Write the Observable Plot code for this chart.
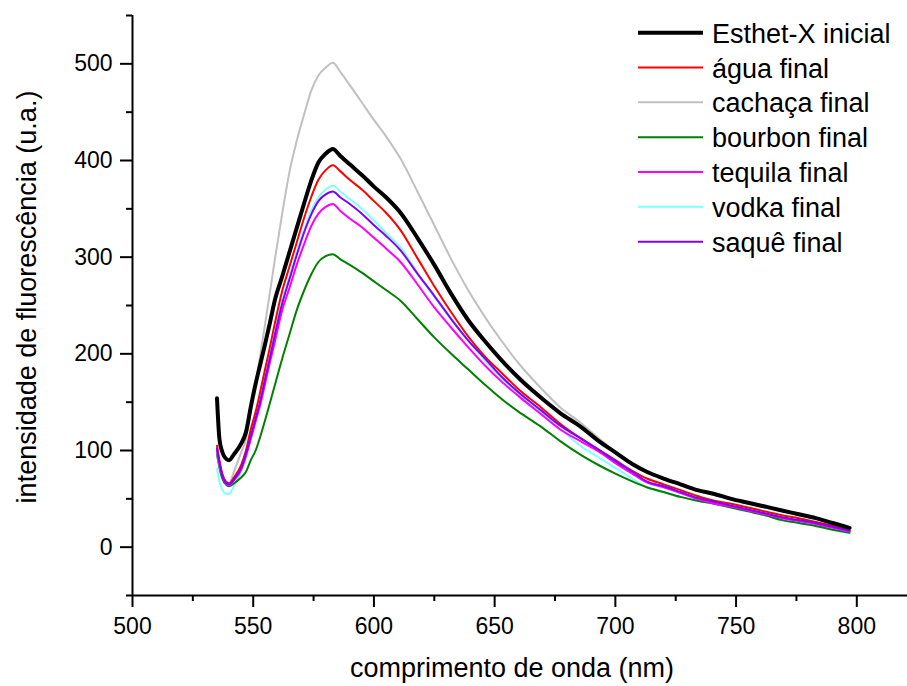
<!DOCTYPE html>
<html><head><meta charset="utf-8">
<script src="https://cdn.jsdelivr.net/npm/d3@7"></script>
<script src="https://cdn.jsdelivr.net/npm/@observablehq/plot@0.6"></script>
<style>body{margin:0;background:#fff;} #chart svg{display:block;}</style>
</head><body><div id="chart"></div>
<script>
// wavelength grid (nm)
const wavelength = [535,536,537,539,540,542,545,547,549,551,553,555,557,559,562,565,568,571,574,577,580,583,586,590,595,600,605,611,618,625,632,639,646,653,660,669,677,686,693,700,707,713,720,727,734,741,748,755,762,769,776,783,790,797];

const esthetX = [154,112,100,91,90,96,107,119,145,169,190,211,233,256,280,305,330,355,379,398,407,412,405,396,385,373,362,346,320,292,262,235,213,193,175,155,139,124,110,98,86,78,71,65,59,55,50,46,42,38,34,30,25,20];
const agua    = [105,90,78,67,66,72,85,100,122,140,162,185,208,232,265,290,315,340,362,380,390,395,389,380,370,358,346,328,299,270,243,218,197,180,163,145,128,112,101,90,79,71,65,59,53,48,45,41,37,33,30,26,22,17];
const cachaca = [100,85,76,67,66,78,98,112,142,170,200,232,265,298,345,388,420,447,472,488,496,501,492,478,460,442,425,402,368,333,298,266,238,213,190,165,145,128,113,99,87,78,71,64,58,54,49,45,41,37,33,29,24,19];
const bourbon = [96,82,72,64,63,66,72,78,90,100,115,132,150,168,195,220,245,265,282,295,301,303,298,292,284,275,266,255,236,217,200,184,168,153,140,125,110,95,85,76,68,62,57,52,48,45,41,37,33,28,25,22,18,15];
const tequila = [100,86,75,65,64,69,80,94,112,130,148,170,192,213,245,268,292,313,332,345,352,355,348,340,331,320,309,295,272,248,227,207,188,171,156,138,122,109,99,87,76,67,62,56,50,45,42,38,34,30,27,24,20,16];
const vodka   = [81,68,60,55,55,63,78,92,112,132,152,175,198,222,256,280,305,328,348,362,370,374,368,360,350,338,325,310,284,259,236,214,193,174,158,140,123,104,93,82,71,62,57,52,48,45,41,37,33,28,25,22,18,14];
const saque   = [102,88,76,66,65,70,82,97,115,133,152,175,197,220,252,277,302,325,344,358,365,368,362,355,345,333,322,307,283,260,236,214,195,176,160,142,126,112,101,89,78,68,63,57,51,47,43,39,35,31,28,25,21,17];

const seriesNames  = ["Esthet-X inicial","água final","cachaça final","bourbon final","tequila final","vodka final","saquê final"];
const seriesValues = [esthetX, agua, cachaca, bourbon, tequila, vodka, saque];
const seriesColors = ["#000000","#ff0000","#c0c0c0","#008000","#ff00ff","#80ffff","#8000ff"];
const seriesWidths = [4,2,2,2,2,2,2];
const drawOrder = [5,3,2,4,1,6,0];

const xMajor = [500,550,600,650,700,750,800];
const xMinor = [525,575,625,675,725,775];
const yMajor = [0,100,200,300,400,500];
const yMinor = [-50,50,150,250,350,450,550];

const xTitle = "comprimento de onda (nm)";
const yTitle = "intensidade de fluorescência (u.a.)";

const rows = [];
seriesValues.forEach((vals, s) => vals.forEach((v, i) => rows.push({series: seriesNames[s], x: wavelength[i], y: v})));

const lineMarks = drawOrder.map(s => Plot.line(rows.filter(d => d.series === seriesNames[s]), {
  x: "x", y: "y", curve: "monotone-x", stroke: seriesColors[s], strokeWidth: seriesWidths[s], strokeLinejoin: "round", strokeLinecap: "round"
}));

const font = "'Liberation Sans', Arial, sans-serif";
const chart = Plot.plot({
  width: 907, height: 686,
  marginLeft: 132, marginRight: 0, marginTop: 15, marginBottom: 91,
  x: {domain: [500, 821]},
  y: {domain: [-50, 550]},
  style: {fontFamily: font, fontSize: "23px", color: "#000", background: "#fff", overflow: "visible"},
  marks: [
    Plot.axisX(xMajor, {tickSize: 12, tickPadding: 10, strokeWidth: 2, fontSize: 23, label: null}),
    Plot.axisX(xMinor, {tickSize: 6, text: null, strokeWidth: 2, label: null}),
    Plot.axisY(yMajor, {tickSize: 12, tickPadding: 8, strokeWidth: 2, fontSize: 23, label: null}),
    Plot.axisY(yMinor, {tickSize: 6, text: null, strokeWidth: 2, label: null}),
    Plot.ruleY([-50], {strokeWidth: 2}),
    Plot.ruleX([500], {strokeWidth: 2}),
    ...lineMarks
  ]
});
document.getElementById("chart").appendChild(chart);

const svg = d3.select(chart);
svg.append("text").attr("x", 512).attr("y", 677).attr("text-anchor", "middle")
  .attr("font-family", font).attr("font-size", 27).attr("fill", "#000").text(xTitle);
svg.append("text").attr("transform", "translate(36,297) rotate(-90)").attr("text-anchor", "middle")
  .attr("font-family", font).attr("font-size", 27).attr("fill", "#000").text(yTitle);

const leg = svg.append("g").attr("text-anchor", "start");
seriesNames.forEach((name, i) => {
  const cy = 32.7 + i * 34.83;
  leg.append("line").attr("x1", 638).attr("x2", 703).attr("y1", cy).attr("y2", cy)
    .attr("stroke", seriesColors[i]).attr("stroke-width", seriesWidths[i]);
  leg.append("text").attr("x", 712).attr("y", cy + 10).attr("text-anchor", "start").attr("font-family", font)
    .attr("font-size", 27).attr("fill", "#000").text(name);
});
</script>
</body></html>
